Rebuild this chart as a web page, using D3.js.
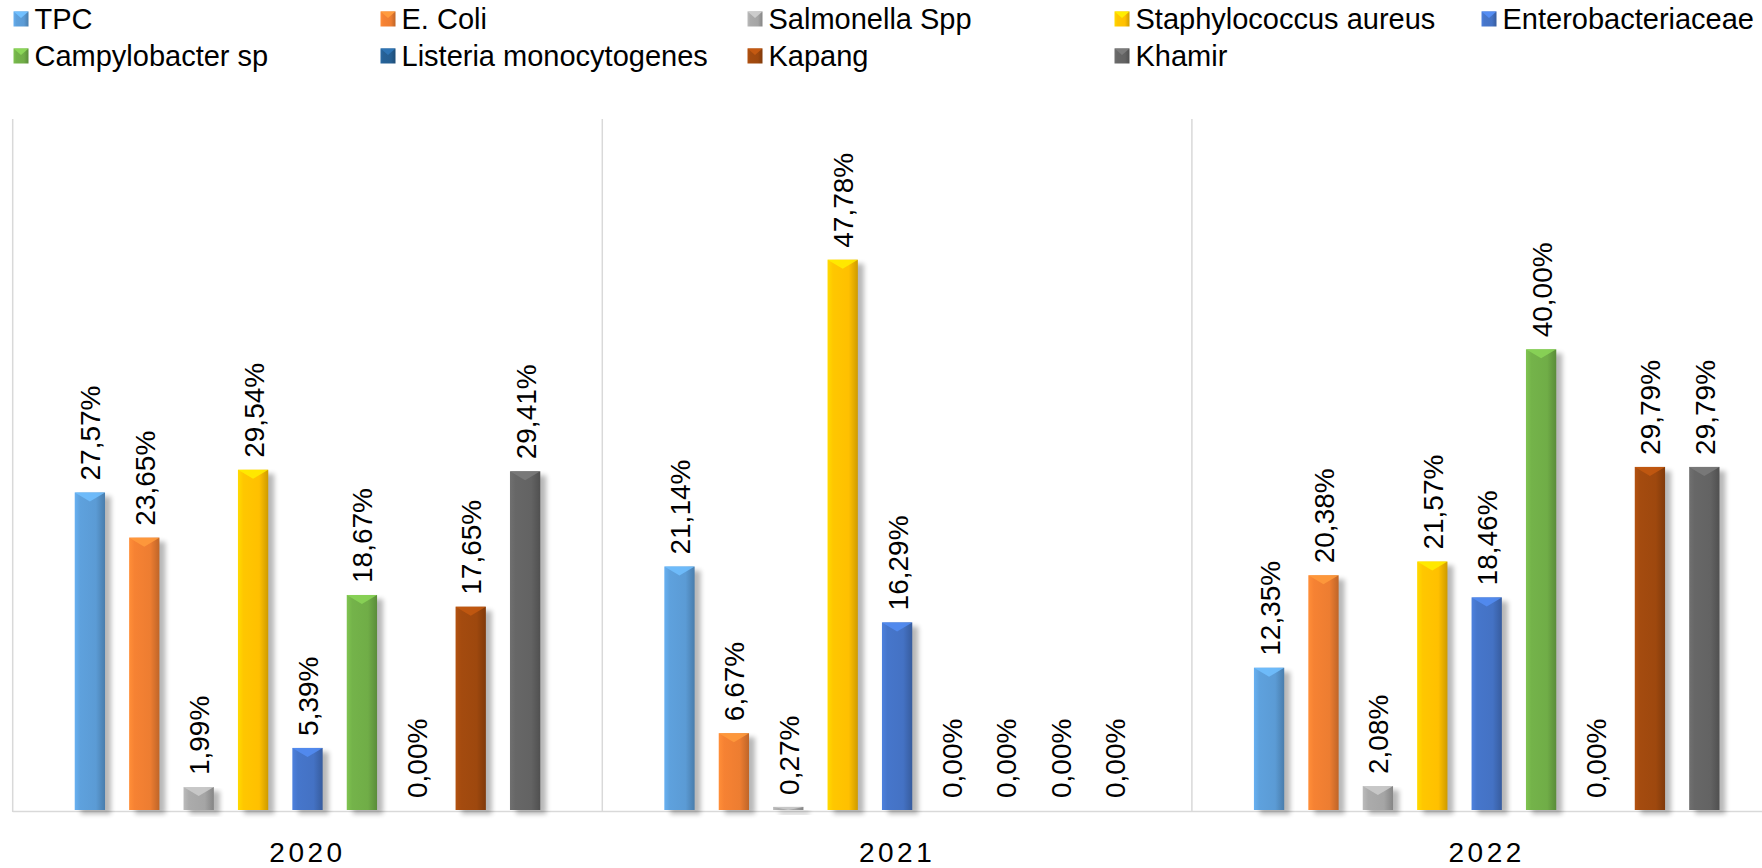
<html>
<head>
<meta charset="UTF-8">
<script src="https://d3js.org/d3.v7.min.js"></script>
<style>
body {
	margin: 0;
	background: #ffffff;
	font-family: "Liberation Sans", Arial, sans-serif;
}
</style>
</head>
<body>
<svg id="chart" width="1762" height="868"></svg>
<script>

// datos (porcentajes)
var years = ["2020", "2021", "2022"];
var series = ["TPC", "E. Coli", "Salmonella Spp", "Staphylococcus aureus", "Enterobacteriaceae",
	"Campylobacter sp", "Listeria monocytogenes", "Kapang", "Khamir"];
var v2020 = [27.57, 23.65, 1.99, 29.54, 5.39, 18.67, 0.00, 17.65, 29.41];
var v2021 = [21.14, 6.67, 0.27, 47.78, 16.29, 0.00, 0.00, 0.00, 0.00];
var v2022 = [12.35, 20.38, 2.08, 21.57, 18.46, 40.00, 0.00, 29.79, 29.79];
var colors = ["#5B9BD5", "#ED7D31", "#A5A5A5", "#FFC000", "#4472C4",
	"#70AD47", "#255E91", "#9E480E", "#636363"];

var values = [v2020, v2021, v2022];

var data = [];
years.forEach(function(yr, i) {
	series.forEach(function(s, j) {
		data.push({year: yr, key: s, value: values[i][j], idx: j});
	});
});

var svg = d3.select("#chart");
var plotTop = 119, plotBottom = 810, plotLeft = 12.7, catW = 589.6;

// escalas
var x0 = d3.scaleBand()
	.domain(years)
	.range([plotLeft, plotLeft + catW * years.length])
	.padding(0);

var x1 = d3.scaleBand()
	.domain(series)
	.range([0, x0.bandwidth()])
	.paddingInner(0.443)
	.paddingOuter(1.14);

var y = d3.scaleLinear()
	.domain([0, 60])
	.range([plotBottom, plotTop]);

var z = d3.scaleOrdinal().domain(series).range(colors);

var loc = d3.formatLocale({decimal: ",", thousands: ".", grouping: [3], currency: ["", ""]});
var fmt = loc.format(".2%");

// degradados y sombra
var defs = svg.append("defs");
series.forEach(function(s, j) {
	var c = d3.color(colors[j]);
	var g = defs.append("linearGradient").attr("id", "grad" + j)
		.attr("x1", "0").attr("x2", "1").attr("y1", "0").attr("y2", "0");
	g.append("stop").attr("offset", "0%").attr("stop-color", c.brighter(0.35));
	g.append("stop").attr("offset", "18%").attr("stop-color", c.brighter(0.1));
	g.append("stop").attr("offset", "70%").attr("stop-color", c);
	g.append("stop").attr("offset", "100%").attr("stop-color", c.darker(0.6));
});
var blur = defs.append("filter").attr("id", "shadow")
	.attr("x", "-50%").attr("y", "-10%").attr("width", "200%").attr("height", "120%");
blur.append("feGaussianBlur").attr("stdDeviation", 2.5);

// lineas del eje
svg.append("g").selectAll("line")
	.data(years.concat(["end"]))
	.enter().append("line")
	.attr("x1", (d, i) => plotLeft + catW * i)
	.attr("x2", (d, i) => plotLeft + catW * i)
	.attr("y1", plotTop)
	.attr("y2", plotBottom + 2)
	.attr("stroke", "#D9D9D9")
	.attr("stroke-width", 1.5);

svg.append("line")
	.attr("x1", plotLeft).attr("x2", plotLeft + catW * 3)
	.attr("y1", plotBottom + 1.5).attr("y2", plotBottom + 1.5)
	.attr("stroke", "#D9D9D9")
	.attr("stroke-width", 1.5);

var bw = x1.bandwidth();
var bars = svg.append("g").selectAll("g")
	.data(data)
	.enter().append("g")
	.attr("transform", d => `translate(${x0(d.year) + x1(d.key)},0)`);

// sombra
bars.append("rect")
	.attr("x", 6)
	.attr("y", d => y(d.value) + 4)
	.attr("width", bw)
	.attr("height", d => plotBottom - y(d.value))
	.attr("fill", "#000")
	.attr("opacity", 0.28)
	.attr("filter", "url(#shadow)");

bars.append("rect")
	.attr("x", 0)
	.attr("y", d => y(d.value))
	.attr("width", bw)
	.attr("height", d => plotBottom - y(d.value))
	.attr("fill", d => "url(#grad" + d.idx + ")");

// bisel superior
bars.filter(d => plotBottom - y(d.value) > 2).append("polygon")
	.attr("points", function(d) {
		var t = y(d.value), h = Math.min(9, plotBottom - t);
		return [[0, t], [bw, t], [bw / 2, t + h]].join(" ");
	})
	.attr("fill", d => d3.color(z(d.key)).brighter(0.6))
	.attr("opacity", 0.85);

// etiquetas
bars.append("text")
	.attr("transform", d => `translate(${bw / 2 + 1},${y(d.value) - 12}) rotate(-90)`)
	.attr("dominant-baseline", "central")
	.attr("font-size", 28)
	.attr("fill", "#000")
	.text(d => fmt(d.value / 100));

// eje x
svg.append("g").selectAll("text")
	.data(years)
	.enter().append("text")
	.attr("x", d => x0(d) + x0.bandwidth() / 2)
	.attr("y", 862)
	.attr("text-anchor", "middle")
	.attr("font-size", 28)
	.attr("letter-spacing", 3.5)
	.attr("fill", "#000")
	.text(d => d);

// leyenda
var legend = svg.append("g").selectAll("g")
	.data(series)
	.enter().append("g")
	.attr("transform", (d, i) => `translate(${13.5 + (i % 5) * 367},${i < 5 ? 19 : 56})`);

legend.append("rect")
	.attr("x", 0).attr("y", -7.5)
	.attr("width", 15).attr("height", 15)
	.attr("fill", (d, i) => "url(#grad" + i + ")");
legend.append("polygon")
	.attr("points", "0,-7.5 15,-7.5 7.5,-1")
	.attr("fill", d => d3.color(z(d)).brighter(0.6));

legend.append("text")
	.attr("x", 21)
	.attr("y", 0)
	.attr("dominant-baseline", "central")
	.attr("font-size", 29)
	.attr("fill", "#000")
	.text(d => d);

</script>
</body>
</html>
